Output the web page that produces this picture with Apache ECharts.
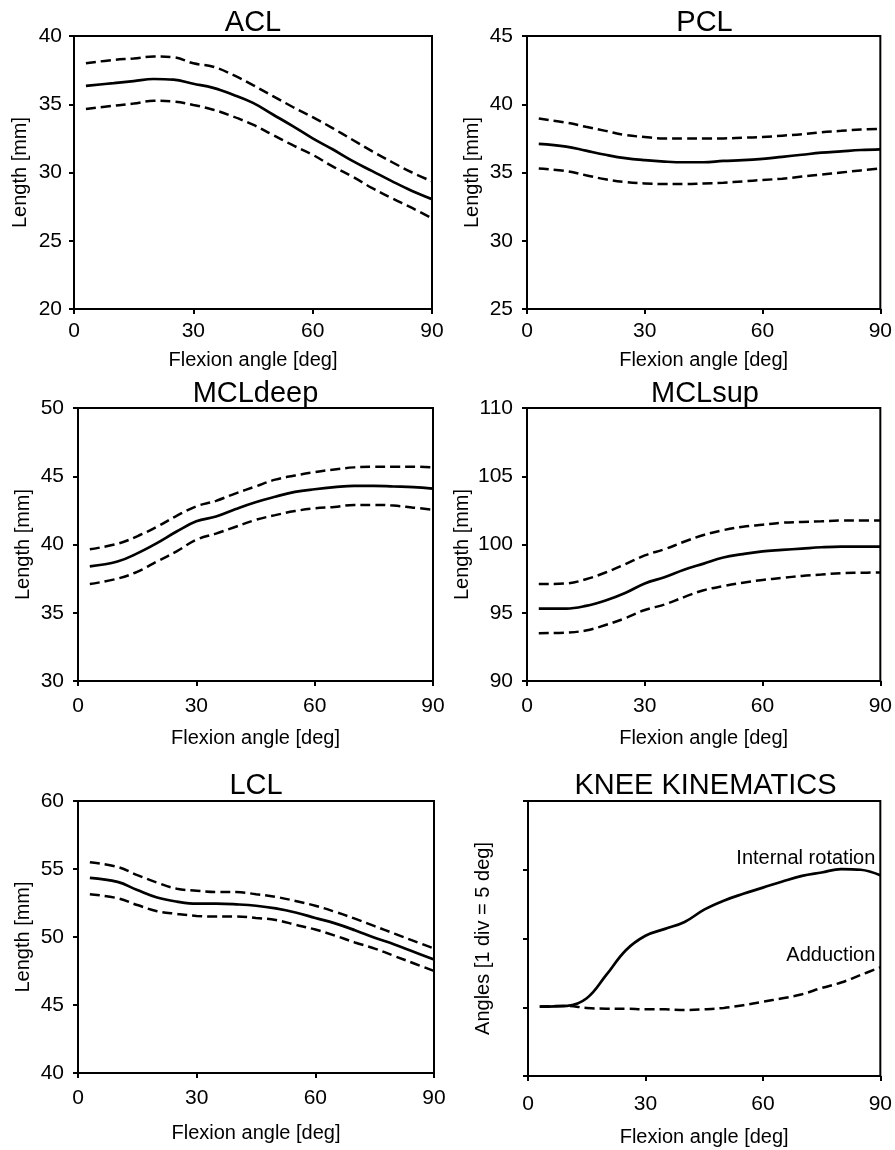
<!DOCTYPE html>
<html><head><meta charset="utf-8">
<script src="https://cdn.jsdelivr.net/npm/echarts@6/dist/echarts.min.js"></script>
<style>html,body{margin:0;padding:0;background:#fff}#c{width:895px;height:1150px}</style>
</head><body><div id="c"></div>
<script>
// Flexion angles (deg) at which values were read
const angles = [3,10,15,20,25,30,35,40,45,50,55,60,65,70,75,80,85,90];
const panelTitles = ['ACL','PCL','MCLdeep','MCLsup','LCL','KNEE KINEMATICS'];
const xName = 'Flexion angle [deg]';
const yNameLen = 'Length [mm]';
const yNameKnee = 'Angles [1 div = 5 deg]';

const aclMean  = [36.35,36.55,36.7,36.85,36.8,36.5,36.2,35.7,35.1,34.25,33.4,32.5,31.7,30.85,30.1,29.35,28.65,28.05];
const aclUpper = [38.0,38.25,38.35,38.5,38.45,38.0,37.75,37.15,36.4,35.6,34.8,34.05,33.25,32.4,31.55,30.75,30.0,29.35];
const aclLower = [34.65,34.9,35.05,35.25,35.2,34.95,34.6,34.1,33.5,32.75,32.0,31.3,30.45,29.7,28.85,28.1,27.4,26.65];

const pclMean  = [37.1,36.9,36.6,36.3,36.05,35.9,35.8,35.75,35.75,35.85,35.9,36.0,36.15,36.3,36.45,36.55,36.65,36.7];
const pclUpper = [38.95,38.65,38.35,38.05,37.75,37.6,37.5,37.5,37.5,37.5,37.55,37.6,37.7,37.8,37.95,38.05,38.15,38.2];
const pclLower = [35.3,35.1,34.8,34.5,34.3,34.2,34.15,34.15,34.2,34.25,34.35,34.45,34.55,34.7,34.85,35.0,35.15,35.3];

const mcldMean  = [38.4,38.75,39.35,40.1,40.95,41.7,42.05,42.6,43.1,43.5,43.85,44.05,44.2,44.3,44.3,44.25,44.2,44.1];
const mcldUpper = [39.65,40.05,40.6,41.3,42.1,42.8,43.2,43.75,44.25,44.75,45.05,45.3,45.5,45.65,45.7,45.7,45.7,45.65];
const mcldLower = [37.1,37.5,38.0,38.75,39.5,40.35,40.8,41.3,41.8,42.15,42.45,42.65,42.75,42.9,42.9,42.85,42.7,42.55];

const mclsMean  = [95.3,95.3,95.5,95.9,96.45,97.15,97.6,98.15,98.6,99.05,99.3,99.5,99.6,99.7,99.8,99.85,99.85,99.85];
const mclsUpper = [97.1,97.15,97.45,97.95,98.55,99.2,99.65,100.2,100.7,101.05,101.3,101.45,101.6,101.65,101.7,101.75,101.75,101.75];
const mclsLower = [93.5,93.55,93.7,94.1,94.6,95.2,95.6,96.15,96.65,96.95,97.2,97.4,97.55,97.7,97.8,97.9,97.93,97.95];

const lclMean  = [54.35,54.05,53.45,52.9,52.6,52.45,52.45,52.4,52.3,52.1,51.8,51.4,51.0,50.5,49.95,49.45,48.9,48.35];
const lclUpper = [55.5,55.15,54.55,54.0,53.55,53.4,53.3,53.3,53.15,52.95,52.65,52.3,51.85,51.35,50.8,50.25,49.7,49.15];
const lclLower = [53.15,52.85,52.35,51.9,51.7,51.55,51.5,51.5,51.4,51.25,50.9,50.55,50.1,49.6,49.15,48.6,48.05,47.5];

const kneeRotation  = [5.05,5.1,5.65,7.35,9.15,10.2,10.7,11.2,12.1,12.75,13.25,13.7,14.15,14.55,14.8,15.05,15.0,14.6];
const kneeAdduction = [5.05,5.1,4.95,4.9,4.9,4.85,4.85,4.8,4.85,4.95,5.15,5.4,5.65,5.95,6.4,6.8,7.35,7.9];

const yRanges = [[20,40],[25,45],[30,50],[90,110],[40,60],[0,20]];

const FONT = 'Liberation Sans, Arial, sans-serif';
const grids = [
  {left:74, top:36, width:358, height:273},
  {left:527,top:36, width:355, height:273},
  {left:78, top:408,width:355, height:273},
  {left:527,top:408,width:356, height:273},
  {left:78, top:801,width:356, height:272},
  {left:528,top:801,width:355, height:275}
];
const titleTop = [8,8,379,379,771,771];
const xNameGap = [41,41,47,47,50,51];
const xLabelMargin = [12,12,15,15,15,18];
const yNameGap = [44,45,45,55,45,35];
const yLabelMargin = [12,14,14,14,14,8];

const pair = arr => angles.map((a,i)=>[a,arr[i]]);
const solid = {color:'#000', width:2.7, type:'solid'};
const dashed = {color:'#000', width:2.5, type:[10,5]};

const option = {
  animation:false,
  backgroundColor:'#fff',
  textStyle:{fontFamily:FONT},
  title: grids.map((g,i)=>({
    text: panelTitles[i], left: g.left + g.width/2, top: titleTop[i], textAlign:'center', padding:0,
    textStyle:{fontFamily:FONT, fontSize:29, fontWeight:'normal', color:'#000'}
  })),
  grid: grids.map(g=>Object.assign({show:true, borderColor:'#000', borderWidth:2, backgroundColor:'transparent'}, g)),
  xAxis: grids.map((g,i)=>({
    type:'value', gridIndex:i, min:0, max:90, interval:30,
    name:xName, nameLocation:'middle', nameGap:xNameGap[i],
    nameTextStyle:{fontFamily:FONT, fontSize:20, color:'#000'},
    axisLine:{show:true, lineStyle:{color:'#000', width:2}},
    axisTick:{show:true, length:5, inside:false, lineStyle:{color:'#000', width:2}},
    axisLabel:{fontFamily:FONT, fontSize:21, color:'#000', margin:xLabelMargin[i]},
    splitLine:{show:false}
  })),
  yAxis: grids.map((g,i)=>({
    type:'value', gridIndex:i, min:yRanges[i][0], max:yRanges[i][1], interval:5,
    name: i===5 ? yNameKnee : yNameLen, nameLocation:'middle', nameGap:yNameGap[i],
    nameTextStyle:{fontFamily:FONT, fontSize:20, color:'#000'},
    axisLine:{show:true, lineStyle:{color:'#000', width:2}},
    axisTick:{show:true, length:5, inside:false, lineStyle:{color:'#000', width:2}},
    axisLabel:{show: i!==5, fontFamily:FONT, fontSize:21, color:'#000', margin:yLabelMargin[i]},
    splitLine:{show:false}
  })),
  series: []
};

const ligaments = [
  [aclMean, aclUpper, aclLower],
  [pclMean, pclUpper, pclLower],
  [mcldMean, mcldUpper, mcldLower],
  [mclsMean, mclsUpper, mclsLower],
  [lclMean, lclUpper, lclLower]
];
ligaments.forEach((set,i)=>{
  set.forEach((arr,k)=>{
    option.series.push({
      type:'line', xAxisIndex:i, yAxisIndex:i, data:pair(arr), smooth:0.4,
      showSymbol:false, symbol:'none', lineStyle: k===0 ? solid : dashed, silent:true
    });
  });
});
const labelStyle = {show:true, position:'left', distance:5, color:'#000', fontFamily:FONT, fontSize:20};
option.series.push({
  type:'line', xAxisIndex:5, yAxisIndex:5, data:pair(kneeRotation), smooth:0.4,
  showSymbol:false, symbol:'none', lineStyle:solid, silent:true,
  markPoint:{symbol:'circle', symbolSize:0, silent:true,
    data:[{coord:[90,15.85], label:Object.assign({formatter:'Internal rotation'}, labelStyle)}]}
});
option.series.push({
  type:'line', xAxisIndex:5, yAxisIndex:5, data:pair(kneeAdduction), smooth:0.4,
  showSymbol:false, symbol:'none', lineStyle:dashed, silent:true,
  markPoint:{symbol:'circle', symbolSize:0, silent:true,
    data:[{coord:[90,8.75], label:Object.assign({formatter:'Adduction'}, labelStyle)}]}
});

const chart = echarts.init(document.getElementById('c'));
chart.setOption(option);
</script></body></html>
